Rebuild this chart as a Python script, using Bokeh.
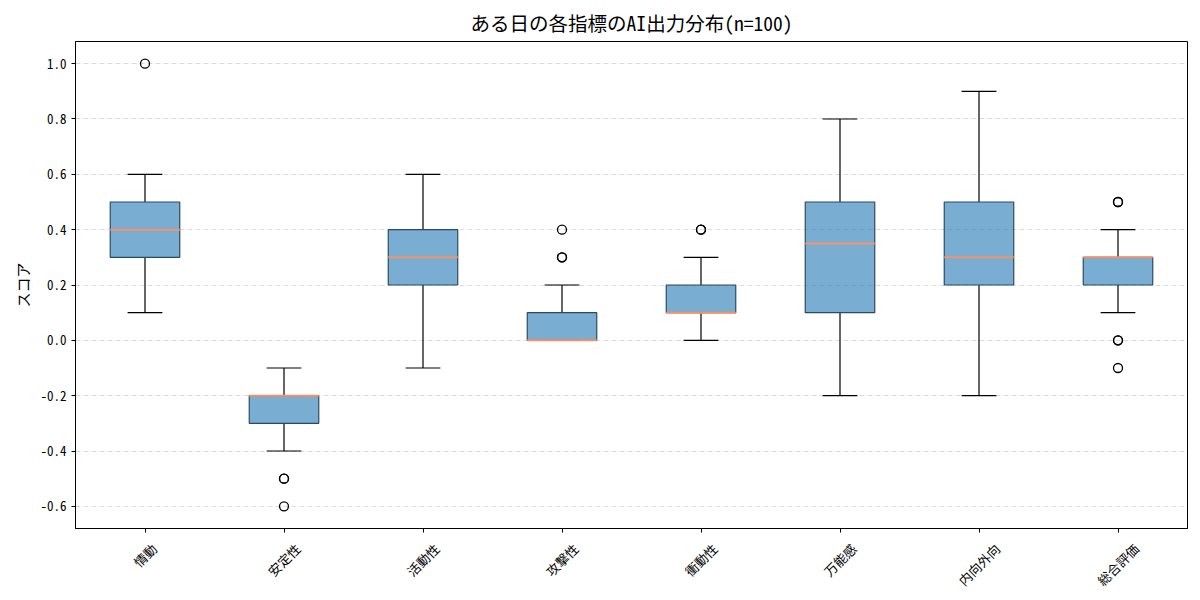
import math
from bokeh.plotting import figure
from bokeh.layouts import column
from bokeh.models import FixedTicker, Range1d, ColumnDataSource
from bokeh.core.properties import value
from bokeh.embed import file_html
from bokeh.resources import INLINE

categories = ["情動", "安定性", "活動性", "攻撃性", "衝動性", "万能感", "内向外向", "総合評価"]
whisker_low = [0.1, -0.4, -0.1, 0.0, 0.0, -0.2, -0.2, 0.1]
q1 = [0.3, -0.3, 0.2, 0.0, 0.1, 0.1, 0.2, 0.2]
median = [0.4, -0.2, 0.3, 0.0, 0.1, 0.35, 0.3, 0.3]
q3 = [0.5, -0.2, 0.4, 0.1, 0.2, 0.5, 0.5, 0.3]
whisker_high = [0.6, -0.1, 0.6, 0.2, 0.3, 0.8, 0.9, 0.4]
outlier_cat = ["情動", "安定性", "安定性", "安定性", "攻撃性", "攻撃性", "攻撃性", "衝動性", "衝動性",
               "総合評価", "総合評価", "総合評価", "総合評価", "総合評価"]
outlier_val = [1.0, -0.5, -0.5, -0.6, 0.3, 0.3, 0.4, 0.4, 0.4,
               0.5, 0.5, 0.0, 0.0, -0.1]
y_ticks = [-0.6, -0.4, -0.2, 0.0, 0.2, 0.4, 0.6, 0.8, 1.0]

FONT = "Noto Sans Mono CJK JP, Noto Sans CJK JP"
Y0, Y1 = -0.68, 1.08

pos = list(range(1, len(categories) + 1))
idx = {c: i + 1 for i, c in enumerate(categories)}
src = ColumnDataSource(dict(x=pos, lo=whisker_low, q1=q1, med=median, q3=q3, hi=whisker_high,
                            x0=[p - 0.25 for p in pos], x1=[p + 0.25 for p in pos],
                            c0=[p - 0.125 for p in pos], c1=[p + 0.125 for p in pos]))

BOTTOM = 12
p = figure(frame_width=1112, frame_height=487, output_backend="svg", toolbar_location=None,
           x_range=Range1d(0.5, 8.5), y_range=Range1d(Y0, Y1),
           min_border_left=75, min_border_right=13, min_border_top=4, min_border_bottom=BOTTOM)

p.title.text = "ある日の各指標のAI出力分布(n=100)"
p.title.align = "center"
p.title.text_font = FONT
p.title.text_font_size = "19.5px"
p.title.text_font_style = "normal"
p.title.text_color = "black"

p.outline_line_color = "black"
p.outline_line_width = 1
p.xgrid.grid_line_color = None
p.ygrid.grid_line_color = "#cccccc"
p.ygrid.grid_line_alpha = 0.7
p.ygrid.grid_line_dash = "5 3"
p.ygrid.ticker = FixedTicker(ticks=y_ticks)

p.yaxis.ticker = FixedTicker(ticks=y_ticks)
p.yaxis.major_label_overrides = {v: f"{v:.1f}" for v in y_ticks}
p.yaxis.axis_label = "スコア"
p.yaxis.axis_label_text_font = FONT
p.yaxis.axis_label_text_font_size = "15px"
p.yaxis.axis_label_text_font_style = "normal"
p.yaxis.axis_label_text_color = "black"

p.xaxis.ticker = FixedTicker(ticks=pos)
p.xaxis.major_label_overrides = {i: "" for i in pos}

for ax in (p.xaxis, p.yaxis):
    ax.axis_line_color = "black"
    ax.major_tick_line_color = "black"
    ax.major_tick_out = 4
    ax.major_tick_in = 0
    ax.minor_tick_line_color = None
    ax.major_label_text_font = FONT
    ax.major_label_text_color = "black"
p.yaxis.major_label_text_font_size = "13px"

# whiskers
p.segment(x0="x", y0="lo", x1="x", y1="q1", source=src, line_color="black", line_width=1.2)
p.segment(x0="x", y0="q3", x1="x", y1="hi", source=src, line_color="black", line_width=1.2)
# caps
p.segment(x0="c0", y0="lo", x1="c1", y1="lo", source=src, line_color="black", line_width=1.2)
p.segment(x0="c0", y0="hi", x1="c1", y1="hi", source=src, line_color="black", line_width=1.2)
# boxes
p.vbar(x="x", width=0.5, bottom="q1", top="q3", source=src, fill_color="#1f77b4", fill_alpha=0.6,
       line_color="#2d4a60", line_width=1.2)
# medians
p.segment(x0="x0", y0="med", x1="x1", y1="med", source=src, line_color="#f4936a", line_width=2)
# outliers
p.scatter(x=[idx[c] for c in outlier_cat], y=outlier_val, marker="circle", size=9,
          fill_color=None, line_color="black", line_width=1.3)

# strip below the plot holding the rotated category labels, centred under each tick
H = 60
p2 = figure(frame_width=1112, frame_height=H, output_backend="svg", toolbar_location=None,
            x_range=p.x_range, y_range=Range1d(0, H), x_axis_location=None, y_axis_location=None,
            min_border_left=75, min_border_right=13, min_border_top=0, min_border_bottom=0)
p2.outline_line_color = None
p2.grid.visible = False
FS = 13
label_y = [H - (13 + (len(c) + 1) * FS / math.sqrt(2) / 2 - BOTTOM) for c in categories]
p2.text(x=pos, y=label_y, text=categories, angle=math.pi / 4, text_align="center",
        text_baseline="middle", text_font=value(FONT), text_font_size=f"{FS}px", text_color="black")

layout = column(p, p2, spacing=0)
open("out.html", "w").write(file_html(layout, INLINE))
